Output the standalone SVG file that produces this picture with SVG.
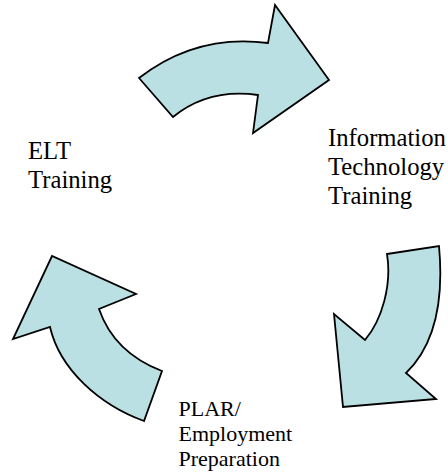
<svg xmlns="http://www.w3.org/2000/svg" width="448" height="473" viewBox="0 0 448 473">
  <style>
    .arrow { fill: #BBE0E3; stroke: #000; stroke-width: 1.8; stroke-linejoin: miter; }
  </style>
  <rect width="448" height="473" fill="#fff"/>

  <!-- cycle arrows -->
  <g id="connectors">
    <path id="arrow-top" class="arrow" d="M 139,78 Q 196.5,33.5 268,43 L 275,5 L 329,80 L 253,133 L 258,95 Q 208.5,88 173,117 Z"/>
    <path id="arrow-right" class="arrow" d="M 387,254 L 439,246 C 444,300 435,345 406,373 L 436,399 L 343,407 L 334,314 L 365,340 C 382,320 392,285 387,254 Z"/>
    <path id="arrow-left" class="arrow" d="M 144,421 C 100,405 60,370 50,327 L 13,339 L 52,256 L 136,294 L 99,309 C 108,335 128,358 162,371 Z"/>
  </g>

  <g font-family="'Liberation Serif', 'Times New Roman', serif" fill="#000">
    <g id="node-elt" font-size="24.7">
      <text x="28" y="159.3">ELT</text>
      <text x="28" y="188.3">Training</text>
    </g>

    <g id="node-it" font-size="24.7">
      <text x="328" y="146">Information</text>
      <text x="328" y="175">Technology</text>
      <text x="328" y="204">Training</text>
    </g>

    <g id="node-plar" font-size="22">
      <text x="178.5" y="415.5">PLAR/</text>
      <text x="178.5" y="440.5">Employment</text>
      <text x="178.5" y="465.5">Preparation</text>
    </g>
  </g>
</svg>
